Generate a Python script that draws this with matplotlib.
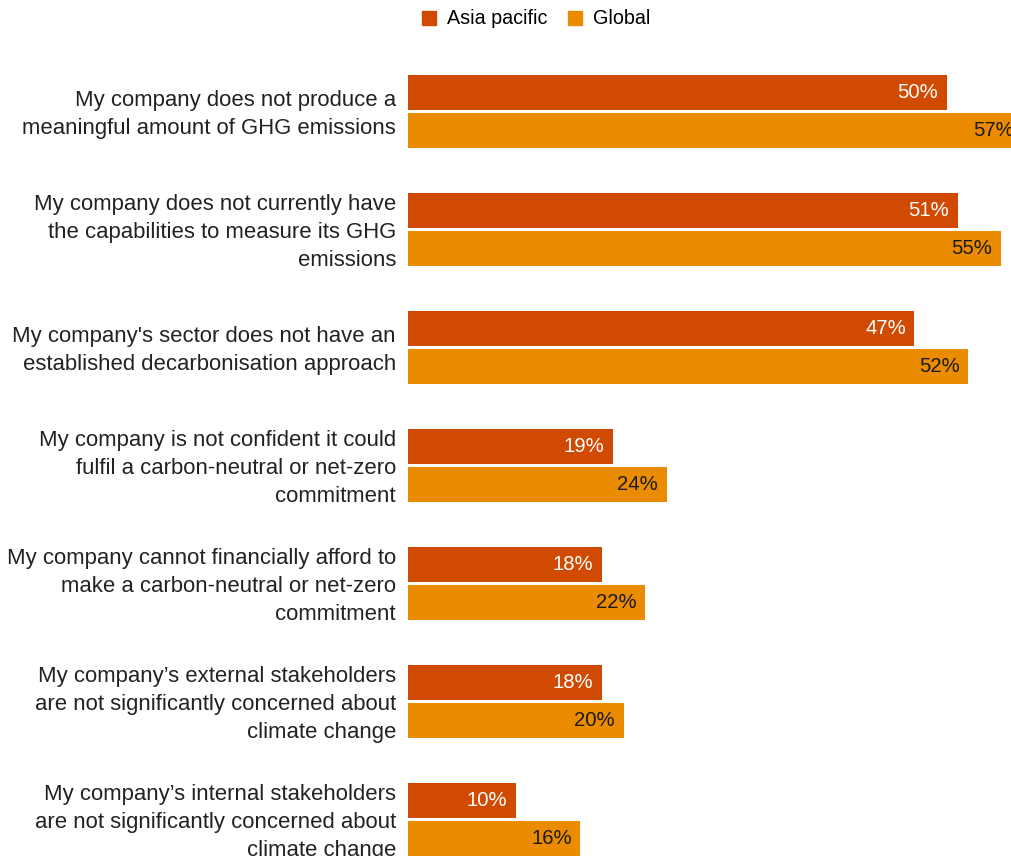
import matplotlib.pyplot as plt
import matplotlib.transforms as mtransforms
from matplotlib.patches import Patch

plt.rcParams['font.family'] = ['Liberation Sans', 'DejaVu Sans']

# Survey reasons and shares (%)
reasons = [
    "My company does not produce a\nmeaningful amount of GHG emissions",
    "My company does not currently have\nthe capabilities to measure its GHG\nemissions",
    "My company's sector does not have an\nestablished decarbonisation approach",
    "My company is not confident it could\nfulfil a carbon-neutral or net-zero\ncommitment",
    "My company cannot financially afford to\nmake a carbon-neutral or net-zero\ncommitment",
    "My company\u2019s external stakeholders\nare not significantly concerned about\nclimate change",
    "My company\u2019s internal stakeholders\nare not significantly concerned about\nclimate change",
]
asia_pacific = [50, 51, 47, 19, 18, 18, 10]
global_vals = [57, 55, 52, 24, 22, 20, 16]

c_asia = '#D04A02'
c_global = '#EB8C00'

fig = plt.figure(figsize=(10.11, 8.56), dpi=100)
ax = fig.add_axes([408 / 1011, 0, 603 / 1011, 781 / 856])

h = 35 / 118
off = 19 / 118
ys = list(range(len(reasons)))
ax.barh([y - off for y in ys], asia_pacific, height=h, color=c_asia)
ax.barh([y + off for y in ys], global_vals, height=h, color=c_global)

xmax = 603 / 10.775
ax.set_xlim(0, xmax)
ax.set_ylim(len(reasons) - 1 + 36.5 / 118, -36.5 / 118)

pad = 0.8
for y, a, g in zip(ys, asia_pacific, global_vals):
    ax.text(a - pad, y - off, f"{a}%", ha='right', va='center',
            color='white', fontsize=14.6, clip_on=True)
    ax.text(g - pad, y + off, f"{g}%", ha='right', va='center',
            color='#1a1a1a', fontsize=14.6, clip_on=True)

# category labels, right-aligned just left of the bars
lbl_tr = ax.get_yaxis_transform() + mtransforms.ScaledTranslation(
    -12 / 100, -3 / 100, fig.dpi_scale_trans)
for y, r in zip(ys, reasons):
    ax.text(0, y, r, transform=lbl_tr, ha='right', va='center',
            fontsize=15.9, color='#222222', linespacing=1.45)

ax.set_yticks([])
ax.set_xticks([])
for s in ax.spines.values():
    s.set_visible(False)

handles = [Patch(color=c_asia, label='Asia pacific'),
           Patch(color=c_global, label='Global')]
fig.legend(handles=handles, loc='center', bbox_to_anchor=(0.53, 1 - 19 / 856),
           ncol=2, frameon=False, fontsize=14.2, handlelength=0.72,
           handleheight=0.72, handletextpad=0.55, columnspacing=1.05)

fig.savefig('out.png', dpi=100)
